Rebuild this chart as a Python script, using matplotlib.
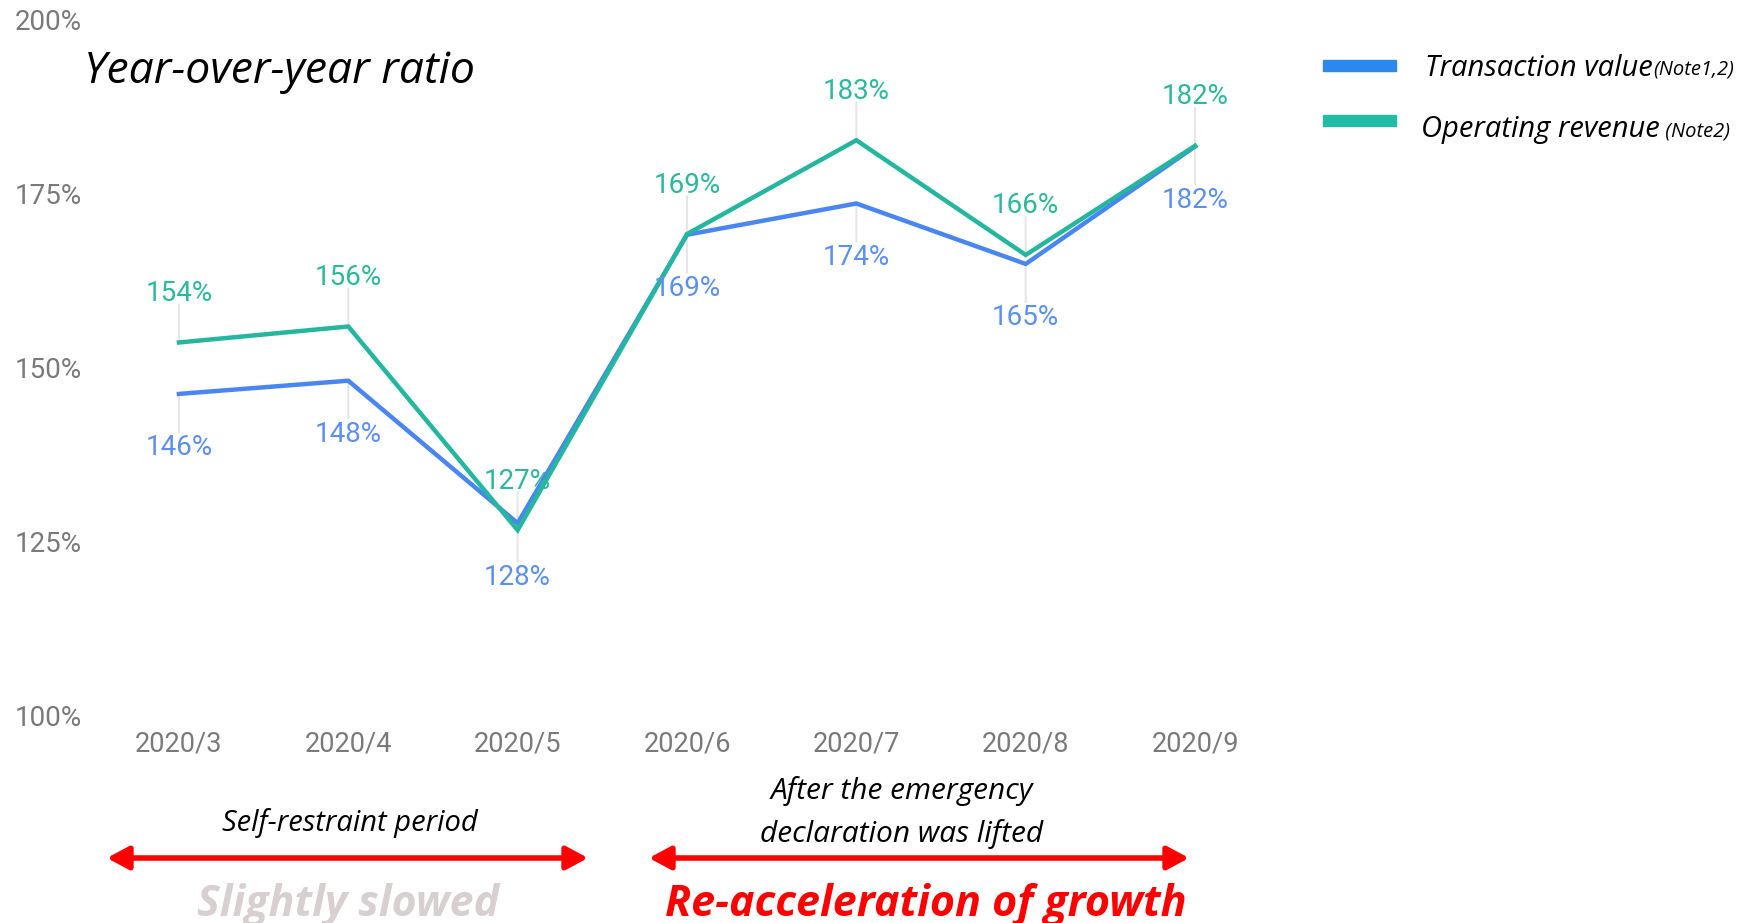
import matplotlib.pyplot as plt
from matplotlib.patches import Rectangle

months = ['2020/3', '2020/4', '2020/5', '2020/6', '2020/7', '2020/8', '2020/9']
transaction = [146.2, 148.1, 127.6, 169.1, 173.6, 164.9, 181.8]
revenue = [153.6, 155.9, 126.6, 169.2, 182.7, 166.2, 181.9]
yticks = [100, 125, 150, 175, 200]

blue = '#4a86f2'
green = '#24b69e'
blue_txt = '#5b8ff0'
green_txt = '#2bb89b'
grey = '#7a7a7a'

plt.rcParams['font.family'] = ['Roboto', 'DejaVu Sans']

W, H = 1754, 923
fig = plt.figure(figsize=(W / 100, H / 100), dpi=100)
ax = fig.add_axes([94.25 / W, 1 - 715 / H, 1185.5 / W, 695 / H])

x = list(range(len(months)))
ax.plot(x, transaction, color=blue, lw=3.2, solid_joinstyle='miter', zorder=3)
ax.plot(x, revenue, color=green, lw=3.2, solid_joinstyle='miter', zorder=4)

# value labels with short leader lines (green above, blue below)
for i in x:
    ax.annotate('', xy=(i, revenue[i]), xytext=(0, 38), textcoords='offset pixels',
                arrowprops=dict(arrowstyle='-', color='#e6e6e6', lw=1.5, shrinkA=0, shrinkB=0),
                zorder=1)
    ax.annotate(f'{revenue[i]:.0f}%', xy=(i, revenue[i]), xytext=(0, 49),
                textcoords='offset pixels', ha='center', va='center',
                color=green_txt, fontsize=20, zorder=5)
    ax.annotate('', xy=(i, transaction[i]), xytext=(0, -38), textcoords='offset pixels',
                arrowprops=dict(arrowstyle='-', color='#e6e6e6', lw=1.5, shrinkA=0, shrinkB=0),
                zorder=1)
    ax.annotate(f'{transaction[i]:.0f}%', xy=(i, transaction[i]), xytext=(0, -54),
                textcoords='offset pixels', ha='center', va='center',
                color=blue_txt, fontsize=20, zorder=5)

ax.set_xlim(-0.5, len(months) - 0.5)
ax.set_ylim(100, 200)
ax.set_xticks(x)
ax.set_xticklabels(months)
ax.set_yticks(yticks)
ax.set_yticklabels([f'{v}%' for v in yticks])
ax.tick_params(length=0, labelcolor=grey)
ax.tick_params(axis='y', pad=9, labelsize=20)
ax.tick_params(axis='x', pad=11, labelsize=19.5)
for s in ax.spines.values():
    s.set_visible(False)

fig.text(84 / W, 1 - 72 / H, 'Year-over-year ratio', family='Open Sans', style='italic',
         fontsize=32, color='black', ha='left', va='center')

# legend: patch, label, and a smaller note right after the label
legend_rows = [(60, 68, '#2b88ee', 1425, 'Transaction value', '(Note1,2)'),
               (115, 129, '#21bca5', 1421, 'Operating revenue', ' (Note2)')]
fig.canvas.draw()
renderer = fig.canvas.get_renderer()
for y0, ty, col, tx, label, note in legend_rows:
    fig.patches.append(Rectangle((1323 / W, 1 - (y0 + 11) / H), 73 / W, 11 / H,
                                 transform=fig.transFigure, color=col))
    t = fig.text(tx / W, 1 - ty / H, label, family='Open Sans', style='italic',
                 fontsize=21, ha='left', va='center')
    bb = t.get_window_extent(renderer)
    fig.text(bb.x1 / W, 1 - (ty + 2) / H, note, family='Open Sans', style='italic',
             fontsize=14.5, ha='left', va='center')

# period annotations
fig.text(350 / W, 1 - 823 / H, 'Self-restraint period', family='Open Sans', style='italic',
         fontsize=21, ha='center', va='center')
fig.text(902 / W, 1 - 791 / H, 'After the emergency', family='Open Sans', style='italic',
         fontsize=21.5, ha='center', va='center')
fig.text(902 / W, 1 - 834 / H, 'declaration was lifted', family='Open Sans', style='italic',
         fontsize=21.5, ha='center', va='center')

for x0, x1 in [(107, 588), (649, 1189)]:
    fig.add_artist(plt.Annotation('', xy=(x1 / W, 1 - 858 / H), xytext=(x0 / W, 1 - 858 / H),
                                  xycoords='figure fraction', textcoords='figure fraction',
                                  arrowprops=dict(arrowstyle='<|-|>,head_length=1.3,head_width=0.7',
                                                  color='#ff0000', lw=4, shrinkA=0, shrinkB=0)))

fig.text(348 / W, 1 - 905 / H, 'Slightly slowed', family='Open Sans', style='italic',
         weight='bold', fontsize=31, color='#d8d0d0', ha='center', va='center')
fig.text(926 / W, 1 - 905 / H, 'Re-acceleration of growth', family='Open Sans', style='italic',
         weight='bold', fontsize=31, color='#ff0000', ha='center', va='center')

fig.savefig('out.png', dpi=100)
